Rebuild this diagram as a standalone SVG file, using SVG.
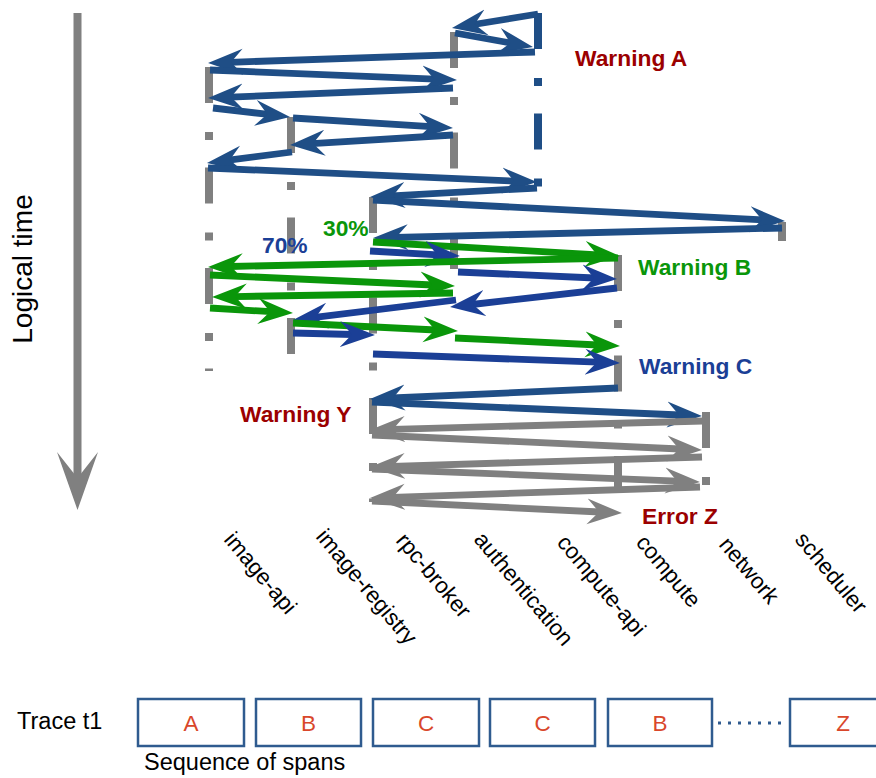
<svg xmlns="http://www.w3.org/2000/svg" width="876" height="778" viewBox="0 0 876 778">
<style>
  text{font-family:"Liberation Sans",Arial,sans-serif}
  .ll{stroke:#808080;stroke-width:8;stroke-dasharray:36 29 8 27.5;fill:none}
  .llb{stroke:#1f4e86;stroke-width:8;stroke-dasharray:36 29 8 27.5;fill:none}
  .a{fill:none;stroke-width:6.8}
  .s{stroke:#1f4e86}
  .r{stroke:#1b3f96}
  .g{stroke:#0a960a}
  .k{stroke:#808080}
  .svc{font-size:22.5px;fill:#000}
  .w{font-size:22.8px;font-weight:bold}
  .box{fill:#fff;stroke:#2f5b8f;stroke-width:2.5}
  .span{font-size:22.5px;fill:#d9472b;text-anchor:middle}
  .plain{font-size:23.5px;fill:#000}
</style>
<defs>
  <marker id="hs" viewBox="0 -14 36 28" markerWidth="36" markerHeight="28" refX="13" refY="0" orient="auto" markerUnits="userSpaceOnUse"><path d="M0,-13 L35,0 L0,13 L12,0 Z" fill="#1f4e86"/></marker>
  <marker id="hr" viewBox="0 -14 36 28" markerWidth="36" markerHeight="28" refX="13" refY="0" orient="auto" markerUnits="userSpaceOnUse"><path d="M0,-13 L35,0 L0,13 L12,0 Z" fill="#1b3f96"/></marker>
  <marker id="hg" viewBox="0 -14 36 28" markerWidth="36" markerHeight="28" refX="13" refY="0" orient="auto" markerUnits="userSpaceOnUse"><path d="M0,-13 L35,0 L0,13 L12,0 Z" fill="#0a960a"/></marker>
  <marker id="hk" viewBox="0 -14 36 28" markerWidth="36" markerHeight="28" refX="13" refY="0" orient="auto" markerUnits="userSpaceOnUse"><path d="M0,-13 L35,0 L0,13 L12,0 Z" fill="#808080"/></marker>
</defs>

<g id="time-axis">
  <line x1="77.5" y1="13" x2="77.5" y2="482" stroke="#808080" stroke-width="8"/>
  <polygon points="57,452 77.5,510 98,452 77.5,478" fill="#808080"/>
  <text class="plain" style="font-size:28px" text-anchor="middle" transform="translate(32,269) rotate(-90)">Logical time</text>
</g>

<g id="image-api">
  <line class="ll" x1="209" y1="67" x2="209" y2="371"/>
  <text class="svc" transform="translate(223,540) rotate(50)">image-api</text>
</g>
<g id="image-registry">
  <line class="ll" x1="291" y1="117" x2="291" y2="356"/>
  <text class="svc" transform="translate(315,537) rotate(50)">image-registry</text>
</g>
<g id="rpc-broker">
  <line class="ll" x1="373" y1="197" x2="373" y2="502"/>
  <text class="svc" transform="translate(395,541) rotate(50)">rpc-broker</text>
</g>
<g id="authentication">
  <line class="ll" x1="454" y1="32" x2="454" y2="270"/>
  <text class="svc" transform="translate(473,540) rotate(50)">authentication</text>
</g>
<g id="compute-api">
  <line class="llb" x1="538" y1="13" x2="538" y2="188"/>
  <text class="svc" transform="translate(556,543) rotate(50)">compute-api</text>
</g>
<g id="compute">
  <line class="ll" x1="618" y1="255" x2="618" y2="491"/>
  <text class="svc" transform="translate(635,543) rotate(50)">compute</text>
</g>
<g id="network">
  <line class="ll" x1="706" y1="412" x2="706" y2="485"/>
  <text class="svc" transform="translate(718,545) rotate(50)">network</text>
</g>
<g id="scheduler">
  <line x1="782" y1="222" x2="782" y2="241" stroke="#808080" stroke-width="8"/>
  <text class="svc" transform="translate(794,540) rotate(50)">scheduler</text>
</g>

<g id="connectors">
  <path class="a s" d="M538,14 L473.7,24.5" marker-end="url(#hs)"/>
  <path class="a s" d="M455,33 L511.3,43.1" marker-end="url(#hs)"/>
  <path class="a s" d="M535,52 L230,62.3" marker-end="url(#hs)"/>
  <path class="a s" d="M210,70 L435,79.1" marker-end="url(#hs)"/>
  <path class="a s" d="M453,88 L230,97.1" marker-end="url(#hs)"/>
  <path class="a s" d="M213,108 L268.2,114.4" marker-end="url(#hs)"/>
  <path class="a s" d="M293,118 L431,126.6" marker-end="url(#hs)"/>
  <path class="a s" d="M453,135 L312,143.6" marker-end="url(#hs)"/>
  <path class="a s" d="M292,152 L228.8,160.2" marker-end="url(#hs)"/>
  <path class="a s" d="M208,168 L515,181.1" marker-end="url(#hs)"/>
  <path class="a s" d="M537,188 L392,195.8" marker-end="url(#hs)"/>
  <path class="a s" d="M373,200 L763,219.9" marker-end="url(#hs)"/>
  <path class="a s" d="M782,228 L395,237.5" marker-end="url(#hs)"/>

  <path class="a g" d="M373,242 L598,254.8" marker-end="url(#hg)"/>
  <path class="a r" d="M370,251 L438,254.8" marker-end="url(#hr)"/>
  <path class="a g" d="M618,258 L230,266.5" marker-end="url(#hg)"/>
  <path class="a r" d="M458,272 L595,278" marker-end="url(#hr)"/>
  <path class="a g" d="M210,275 L433,285" marker-end="url(#hg)"/>
  <path class="a r" d="M617,288 L471.9,304.5" marker-end="url(#hr)"/>
  <path class="a g" d="M453,293 L234,296.6" marker-end="url(#hg)"/>
  <path class="a g" d="M210,308 L271,311.7" marker-end="url(#hg)"/>
  <path class="a r" d="M456,300 L314.8,317.3" marker-end="url(#hr)"/>
  <path class="a g" d="M293,323 L436,330" marker-end="url(#hg)"/>
  <path class="a r" d="M293,333 L353,334.5" marker-end="url(#hr)"/>
  <path class="a g" d="M455,338 L598,345" marker-end="url(#hg)"/>
  <path class="a r" d="M373,354 L598,362.2" marker-end="url(#hr)"/>

  <path class="a s" d="M618,388 L392,398" marker-end="url(#hs)"/>
  <path class="a s" d="M372,402 L680,415" marker-end="url(#hs)"/>

  <path class="a k" d="M703,421 L392,429.4" marker-end="url(#hk)"/>
  <path class="a k" d="M372,435 L680,449" marker-end="url(#hk)"/>
  <path class="a k" d="M702,457 L392,466.3" marker-end="url(#hk)"/>
  <path class="a k" d="M372,469 L678,481.1" marker-end="url(#hk)"/>
  <path class="a k" d="M700,487 L392,497.3" marker-end="url(#hk)"/>
  <path class="a k" d="M372,501 L600,512" marker-end="url(#hk)"/>
</g>

<g id="annotations">
  <text class="w" x="575" y="66" fill="#9b0000">Warning A</text>
  <text class="w" x="323" y="236" fill="#0a960a">30%</text>
  <text class="w" x="262" y="253" fill="#1b3f96">70%</text>
  <text class="w" x="638" y="275" fill="#0a960a">Warning B</text>
  <text class="w" x="639" y="374" fill="#1b3f96">Warning C</text>
  <text class="w" x="240" y="422" fill="#9b0000">Warning Y</text>
  <text class="w" x="642" y="524" fill="#9b0000">Error Z</text>
</g>

<g id="trace">
  <text class="plain" x="17" y="729">Trace t1</text>
  <g id="span-1"><rect class="box" x="138" y="699" width="106" height="47"/><text class="span" x="191" y="731">A</text></g>
  <g id="span-2"><rect class="box" x="256" y="699" width="105" height="47"/><text class="span" x="308.5" y="731">B</text></g>
  <g id="span-3"><rect class="box" x="373" y="699" width="106" height="47"/><text class="span" x="426" y="731">C</text></g>
  <g id="span-4"><rect class="box" x="490" y="699" width="105" height="47"/><text class="span" x="542.5" y="731">C</text></g>
  <g id="span-5"><rect class="box" x="608" y="699" width="104" height="47"/><text class="span" x="660" y="731">B</text></g>
  <line x1="718" y1="723" x2="788" y2="723" stroke="#2f5b8f" stroke-width="3" stroke-dasharray="3 7"/>
  <g id="span-z"><rect class="box" x="790" y="699" width="106" height="47"/><text class="span" x="843" y="731">Z</text></g>
  <text class="plain" x="144" y="770">Sequence of spans</text>
</g>
</svg>
